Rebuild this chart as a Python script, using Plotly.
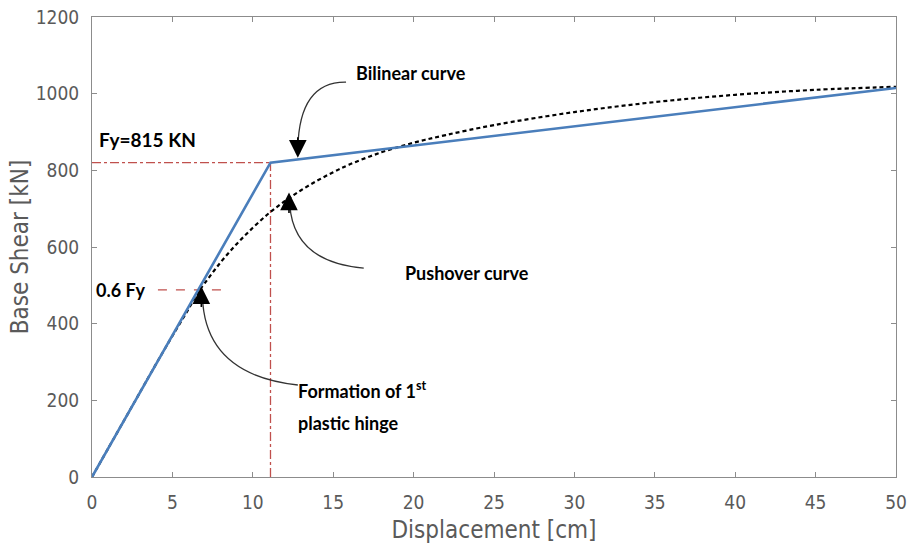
import plotly.graph_objects as go

# pushover curve
disp_push = [0, 1, 2, 3, 4, 5, 6, 6.6, 7, 8, 9, 10, 11, 12, 13, 14, 15, 16, 18, 20, 22, 25, 30, 35, 40, 45, 50]
shear_push = [0, 74, 148, 222, 296, 368, 438, 482, 505, 560, 608, 650, 688, 720, 748, 773, 795, 815, 847, 872, 892, 918, 952, 978, 997, 1010, 1018]

# bilinear idealisation
disp_bilin = [0, 11.1, 50]
shear_bilin = [0, 820, 1015]

fy_disp = 11.1
fy_shear = 820
fy06_shear = 488
fy06_disp = [4.1, 8.3]

x_ticks = [0, 5, 10, 15, 20, 25, 30, 35, 40, 45, 50]
y_ticks = [0, 200, 400, 600, 800, 1000, 1200]

RED = "#c0504d"
BLUE = "#4a7ebb"
GREY = "#5a5a5a"
LBL_FONT = dict(family="Lato", size=18, color="black")
AX_FONT = "DejaVu Sans Condensed, Liberation Sans, sans-serif"

fig = go.Figure()

# reference lines
fig.add_trace(go.Scatter(x=[0, fy_disp], y=[fy_shear, fy_shear], mode="lines",
                         line=dict(color=RED, width=1.3, dash="dashdot"), hoverinfo="skip"))
fig.add_trace(go.Scatter(x=[fy_disp, fy_disp], y=[0, fy_shear], mode="lines",
                         line=dict(color=RED, width=1.3, dash="dashdot"), hoverinfo="skip"))
fig.add_trace(go.Scatter(x=fy06_disp, y=[fy06_shear, fy06_shear], mode="lines",
                         line=dict(color=RED, width=1.3, dash="dash"), hoverinfo="skip"))

fig.add_trace(go.Scatter(x=disp_push, y=shear_push, mode="lines", line_shape="spline",
                         line=dict(color="black", width=2.2, dash="4px,3px"), name="Pushover"))
fig.add_trace(go.Scatter(x=disp_bilin, y=shear_bilin, mode="lines",
                         line=dict(color=BLUE, width=2.6), name="Bilinear"))

# curved arrow bodies
arrows = [
    "M 15.8,1030 Q 12.9,1032 12.8,858",
    "M 16.9,545 Q 12.5,561 12.3,712",
    "M 12.8,240 Q 7.05,266 6.87,468",
]
for p in arrows:
    fig.add_shape(type="path", path=p, xref="x", yref="y",
                  line=dict(color="#333333", width=1.3))

# arrow heads
for x, y, ax, ay in [(12.8, 833, 0, -22), (12.25, 742, 0, 22), (6.8, 497, 0, 22)]:
    fig.add_annotation(x=x, y=y, ax=ax, ay=ay, text="", showarrow=True,
                       arrowhead=2, arrowsize=2.2, arrowwidth=1.6, arrowcolor="black")

fig.add_annotation(x=19.85, y=1054, text="<b>Bilinear curve</b>", showarrow=False, font=LBL_FONT)
fig.add_annotation(x=23.3, y=532, text="<b>Pushover curve</b>", showarrow=False, font=LBL_FONT)
fig.add_annotation(x=12.7, y=226, text="<b>Formation of 1<sup>st</sup></b>",
                   showarrow=False, xanchor="left", font=LBL_FONT)
fig.add_annotation(x=12.7, y=141, text="<b>plastic hinge</b>",
                   showarrow=False, xanchor="left", font=LBL_FONT)
fig.add_annotation(x=0.3, y=880, text="<b>Fy=815 KN</b>", showarrow=False, xanchor="left",
                   font=dict(LBL_FONT, size=19))
fig.add_annotation(x=0.15, y=488, text="<b>0.6 Fy</b>", showarrow=False, xanchor="left", font=LBL_FONT)

axis_common = dict(showgrid=False, zeroline=False, showline=True, linecolor="#8c8c8c", linewidth=1,
                   mirror="ticks", ticks="inside", ticklen=5, tickcolor="#8c8c8c", automargin=False,
                   ticklabelstandoff=8, ticklabeloverflow="allow",
                   tickfont=dict(family=AX_FONT, size=19, color=GREY))

fig.update_xaxes(range=[0, 50], tickvals=x_ticks,
                 title=dict(text="Displacement [cm]", font=dict(family=AX_FONT, size=24, color=GREY), standoff=9),
                 **axis_common)
fig.update_yaxes(range=[0, 1200], tickvals=y_ticks,
                 title=dict(text="Base Shear [kN]", font=dict(family=AX_FONT, size=24, color=GREY), standoff=0),
                 **axis_common)

fig.update_layout(width=909, height=548, showlegend=False,
                  margin=dict(l=92, r=13, t=17, b=71),
                  plot_bgcolor="white", paper_bgcolor="white")

# drop the default body margin so the figure fills the window
fig.write_html("out.html", config={"displayModeBar": False},
               post_script="document.body.style.margin='0';")
